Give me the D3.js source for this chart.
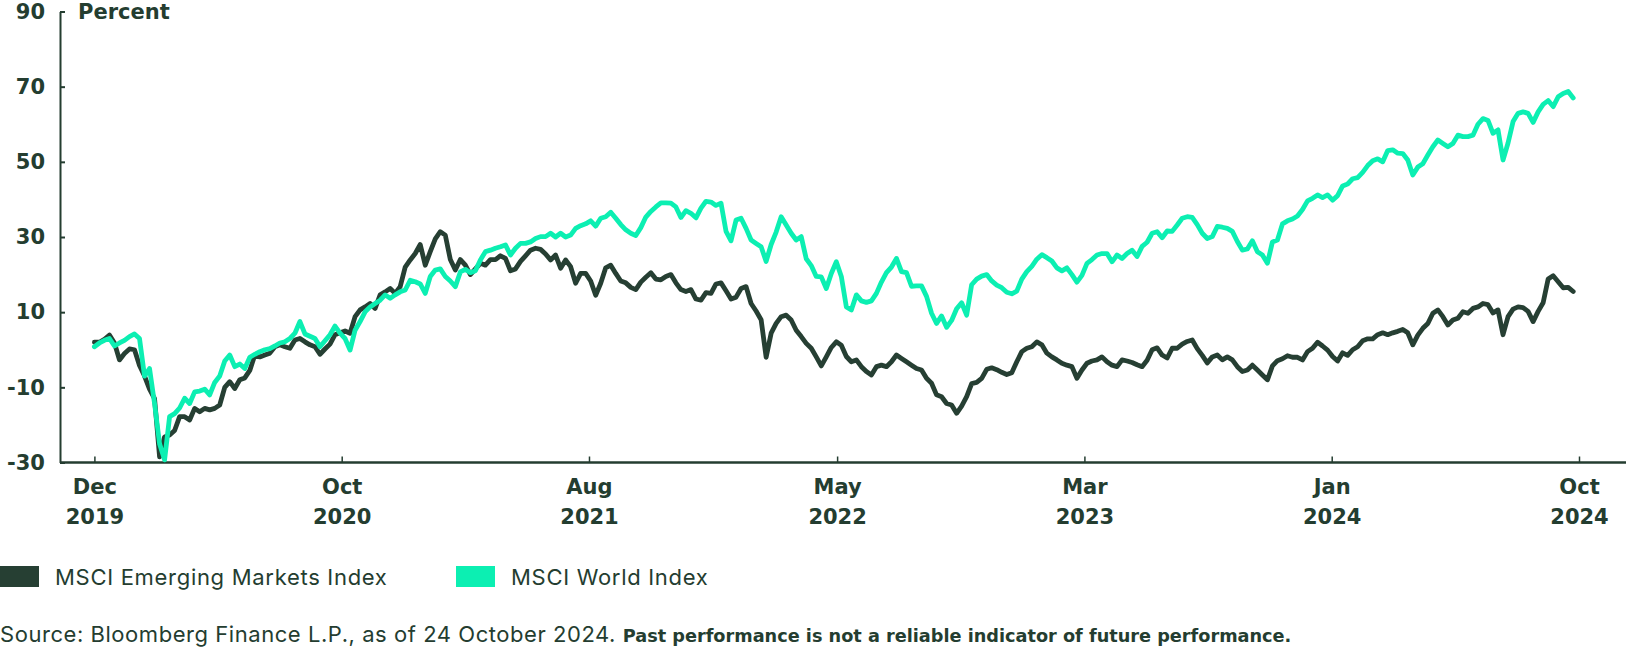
<!DOCTYPE html>
<html>
<head>
<meta charset="utf-8">
<script src="https://cdn.jsdelivr.net/npm/d3@7"></script>
<style>
  body { margin: 0; background: #fff; }
  svg { display: block; font-family: Inter, "Noto Sans", sans-serif; }
</style>
</head>
<body>
<svg id="canvas" width="1626" height="654"></svg>
<script>
// values, one sample every ~6 days, Dec 2019 .. 24 Oct 2024 (percent)
const emValues = [2.0,2.0,2.8,3.9,1.8,-2.7,-1.0,0.2,0.0,-4.2,
  -7.0,-10.5,-13.0,-28.5,-23.2,-22.7,-21.5,-17.8,-17.8,-18.7,
  -15.6,-16.5,-15.6,-16.0,-15.6,-14.7,-10.0,-8.5,-10.3,-8.0,
  -7.5,-5.5,-1.4,-1.9,-1.4,-0.9,0.8,1.3,0.8,0.4,
  2.6,3.0,2.1,1.3,0.8,-1.2,0.2,1.5,4.0,4.5,
  5.0,4.4,8.8,10.6,11.4,12.3,11.0,14.6,15.4,16.3,
  15.0,16.8,22.0,23.9,25.6,28.0,22.5,26.1,29.5,31.4,
  30.5,24.0,21.2,24.0,22.5,20.0,21.5,23.0,22.5,24.0,
  24.0,25.0,24.3,21.0,21.5,23.5,25.0,26.5,27.0,26.7,
  25.5,23.9,25.2,21.7,23.9,22.1,17.7,20.3,20.3,18.3,
  14.5,17.7,21.8,22.5,20.3,18.3,17.8,16.6,16.0,18.0,
  19.3,20.5,18.8,18.6,19.5,20.0,17.8,16.0,15.5,16.0,
  13.5,13.2,15.2,15.0,17.5,17.8,15.7,13.5,14.0,16.3,
  16.8,12.3,10.3,8.0,-2.0,4.4,7.0,8.8,9.2,7.9,
  5.2,3.5,1.7,0.4,-1.9,-4.3,-1.9,0.6,2.1,1.2,
  -1.8,-3.2,-2.7,-4.5,-5.8,-6.7,-4.5,-4.1,-4.5,-3.2,
  -1.4,-2.3,-3.2,-4.1,-5.0,-5.4,-7.6,-8.9,-12.0,-12.5,
  -14.3,-14.7,-16.9,-15.0,-12.5,-9.0,-8.7,-7.6,-5.2,-4.8,
  -5.3,-6.0,-6.6,-6.1,-3.2,-0.5,0.4,0.8,2.1,1.3,
  -0.9,-1.9,-2.7,-3.6,-4.1,-4.5,-7.6,-5.4,-3.6,-3.0,
  -2.7,-1.9,-3.2,-4.1,-4.5,-2.7,-3.0,-3.4,-4.0,-4.5,
  -2.8,0.0,0.5,-1.4,-2.2,0.4,0.4,1.5,2.2,2.6,
  0.3,-1.5,-3.5,-1.9,-1.4,-2.7,-1.9,-2.7,-4.5,-5.8,
  -5.4,-4.1,-5.4,-6.7,-8.0,-4.3,-2.9,-2.4,-1.6,-2.0,
  -2.0,-2.7,-0.5,0.4,2.0,1.0,-0.1,-1.8,-3.0,-0.8,
  -1.5,0.0,0.8,2.4,2.9,2.9,4.0,4.5,4.0,4.5,
  4.9,5.4,4.5,1.3,3.9,5.7,7.0,9.7,10.6,8.8,
  6.6,7.9,8.4,10.1,9.7,11.0,11.4,12.3,12.0,9.8,
  10.6,4.0,8.8,10.8,11.4,11.2,10.2,7.5,10.2,12.5,
  18.8,19.7,18.1,16.5,16.6,15.5];

const worldValues = [0.8,1.8,2.5,3.0,1.0,1.8,2.5,3.5,4.2,3.0,
  -7.0,-5.0,-14.3,-25.0,-29.3,-17.8,-17.0,-15.5,-12.9,-14.3,
  -11.2,-11.0,-10.5,-12.0,-8.7,-7.0,-3.0,-1.4,-4.5,-3.8,
  -5.0,-2.0,-1.2,-0.5,0.0,0.3,1.0,1.8,2.1,3.0,
  4.4,7.5,4.2,3.6,3.0,0.8,2.4,4.0,6.3,4.4,
  3.0,-0.1,5.2,7.5,10.1,11.4,12.3,13.2,14.6,13.7,
  14.6,15.4,15.9,18.5,18.1,17.5,15.0,19.5,21.2,21.5,
  19.5,18.3,16.8,20.7,21.4,20.5,21.0,23.9,26.1,26.5,
  27.0,27.4,27.9,25.2,27.0,28.3,28.3,28.7,29.6,30.1,
  30.1,31.0,30.0,31.0,30.0,30.5,32.3,33.0,33.5,34.3,
  32.9,35.0,35.4,36.6,35.0,33.3,31.9,31.0,30.4,32.5,
  35.3,36.8,38.0,39.1,39.1,39.0,38.0,35.2,37.0,36.3,
  35.1,37.7,39.5,39.3,38.4,39.0,31.5,29.0,34.5,35.0,
  32.3,29.2,28.3,27.4,23.5,28.0,31.3,35.4,33.2,31.0,
  29.2,30.1,24.2,22.4,19.5,19.4,16.3,20.3,23.4,19.5,
  11.4,10.6,14.6,13.0,12.6,13.0,15.0,18.0,20.5,22.0,
  24.3,20.8,20.5,16.9,17.0,17.0,14.2,9.7,7.0,9.0,
  6.0,7.8,10.9,12.5,9.2,17.3,18.8,19.6,20.0,18.3,
  17.2,16.5,15.3,14.9,15.6,18.8,20.8,22.2,24.1,25.3,
  24.5,23.6,21.8,21.0,21.8,20.0,18.0,19.8,23.0,24.0,
  25.2,25.6,25.6,23.4,25.2,24.3,25.6,26.5,24.8,27.5,
  28.6,31.0,31.4,29.8,31.6,31.5,33.2,35.0,35.4,35.2,
  33.3,31.0,29.6,30.1,32.8,32.6,32.3,31.5,28.8,26.5,
  26.8,29.0,26.1,25.2,23.0,28.7,29.2,33.5,34.3,34.8,
  35.6,37.3,39.6,40.3,41.2,40.5,41.2,39.8,41.0,43.6,
  44.1,45.5,45.8,47.2,49.0,50.3,50.8,50.0,53.0,53.2,
  52.3,52.2,50.5,46.5,48.6,49.5,51.8,54.0,55.8,54.9,
  54.0,54.9,57.1,56.7,56.7,57.1,60.0,61.5,61.0,57.6,
  58.5,50.5,55.0,60.7,62.9,63.3,62.9,60.5,63.3,65.3,
  66.3,64.7,67.3,68.2,68.7,67.0];

const seriesNames = ['MSCI Emerging Markets Index', 'MSCI World Index'];
const seriesColors = ['#263f33', '#0cefb2'];

const yTicks = [-30, -10, 10, 30, 50, 70, 90];
const xTickDates = ['2019-12-02', '2020-09-26', '2021-07-22', '2022-05-18', '2023-03-13', '2024-01-06', '2024-10-31'];
const xTickLabels = ['Dec|2019', 'Oct|2020', 'Aug|2021', 'May|2022', 'Mar|2023', 'Jan|2024', 'Oct|2024'];

const firstDate = new Date(2019, 11, 2);
const lastDate = new Date(2024, 9, 24);

const ink = '#243d30';
const boldFont = '"DejaVu Sans", sans-serif';
const canvas = d3.select('#canvas');
const W = 1626;

const parse = d3.timeParse('%Y-%m-%d');
const x = d3.scaleTime()
  .domain([parse(xTickDates[0]), parse(xTickDates[xTickDates.length - 1])])
  .range([94.4, 1579]);
const y = d3.scaleLinear().domain([-30, 90]).range([462.5, 11.5]);

const sampleDate = (i, n) => new Date(+firstDate + i * (lastDate - firstDate) / (n - 1));

// y axis
const yAxis = canvas.append('g')
  .attr('transform', 'translate(60,0)')
  .call(d3.axisLeft(y).tickValues(yTicks).tickFormat((d) => String(d))
    .tickSizeInner(-5).tickSizeOuter(0).tickPadding(15));
yAxis.select('.domain').attr('stroke', ink).attr('stroke-width', 2);
yAxis.selectAll('.tick line').attr('stroke', ink).attr('stroke-width', 2);
yAxis.selectAll('.tick text')
  .attr('fill', ink).attr('font-size', 21).attr('font-weight', 700)
  .attr('font-family', boldFont);

canvas.append('text')
  .attr('x', 78).attr('y', y(90)).attr('dy', '0.35em')
  .attr('fill', ink).attr('font-size', 21).attr('font-weight', 700)
  .attr('font-family', boldFont)
  .text('Percent');

// x axis
const xAxis = canvas.append('g')
  .attr('transform', `translate(0,${y(-30)})`)
  .call(d3.axisBottom(x)
    .tickValues(xTickDates.map(parse))
    .tickFormat((d, i) => xTickLabels[i])
    .tickSizeInner(-6).tickSizeOuter(0).tickPadding(17));
xAxis.select('.domain').remove();
xAxis.selectAll('.tick line').attr('stroke', ink).attr('stroke-width', 1.5);
xAxis.selectAll('.tick text')
  .attr('fill', ink).attr('font-size', 21).attr('font-weight', 700)
  .attr('font-family', boldFont)
  .each(function () {
    const parts = d3.select(this).text().split('|');
    const t = d3.select(this).text(null);
    parts.forEach((p, j) => {
      t.append('tspan').attr('x', 0).attr('dy', j === 0 ? '0.71em' : '1.4em').text(p);
    });
  });
canvas.append('line')
  .attr('x1', 60).attr('x2', W)
  .attr('y1', y(-30)).attr('y2', y(-30))
  .attr('stroke', ink).attr('stroke-width', 2.5);

// lines
const line = d3.line()
  .x((d) => x(d.date))
  .y((d) => y(d.value));

[emValues, worldValues].forEach((vals, s) => {
  const pts = vals.map((v, i) => ({ date: sampleDate(i, vals.length), value: v }));
  canvas.append('path')
    .datum(pts)
    .attr('d', line)
    .attr('fill', 'none')
    .attr('stroke', seriesColors[s])
    .attr('stroke-width', 4.8)
    .attr('stroke-linejoin', 'round')
    .attr('stroke-linecap', 'round');
});

// legend
const legendX = [0, 456];
const legend = canvas.selectAll('.legend')
  .data(seriesNames)
  .enter()
  .append('g')
  .attr('class', 'legend')
  .attr('transform', (d, i) => `translate(${legendX[i]},566)`);
legend.append('rect')
  .attr('width', 39).attr('height', 21)
  .attr('fill', (d, i) => seriesColors[i]);
legend.append('text')
  .attr('x', 55).attr('y', 18.5)
  .attr('fill', ink).attr('font-size', 22).attr('font-weight', 400)
  .attr('letter-spacing', 0.7)
  .text((d) => d);

// source
const src = canvas.append('text')
  .attr('x', 0).attr('y', 642)
  .attr('fill', ink);
src.append('tspan').attr('font-size', 22).attr('font-weight', 400)
  .attr('letter-spacing', 0.55)
  .text('Source: Bloomberg Finance L.P., as of 24 October 2024. ');
src.append('tspan').attr('font-size', 17.7).attr('font-weight', 700)
  .attr('font-family', boldFont).attr('letter-spacing', 0)
  .text('Past performance is not a reliable indicator of future performance.');
</script>
</body>
</html>
